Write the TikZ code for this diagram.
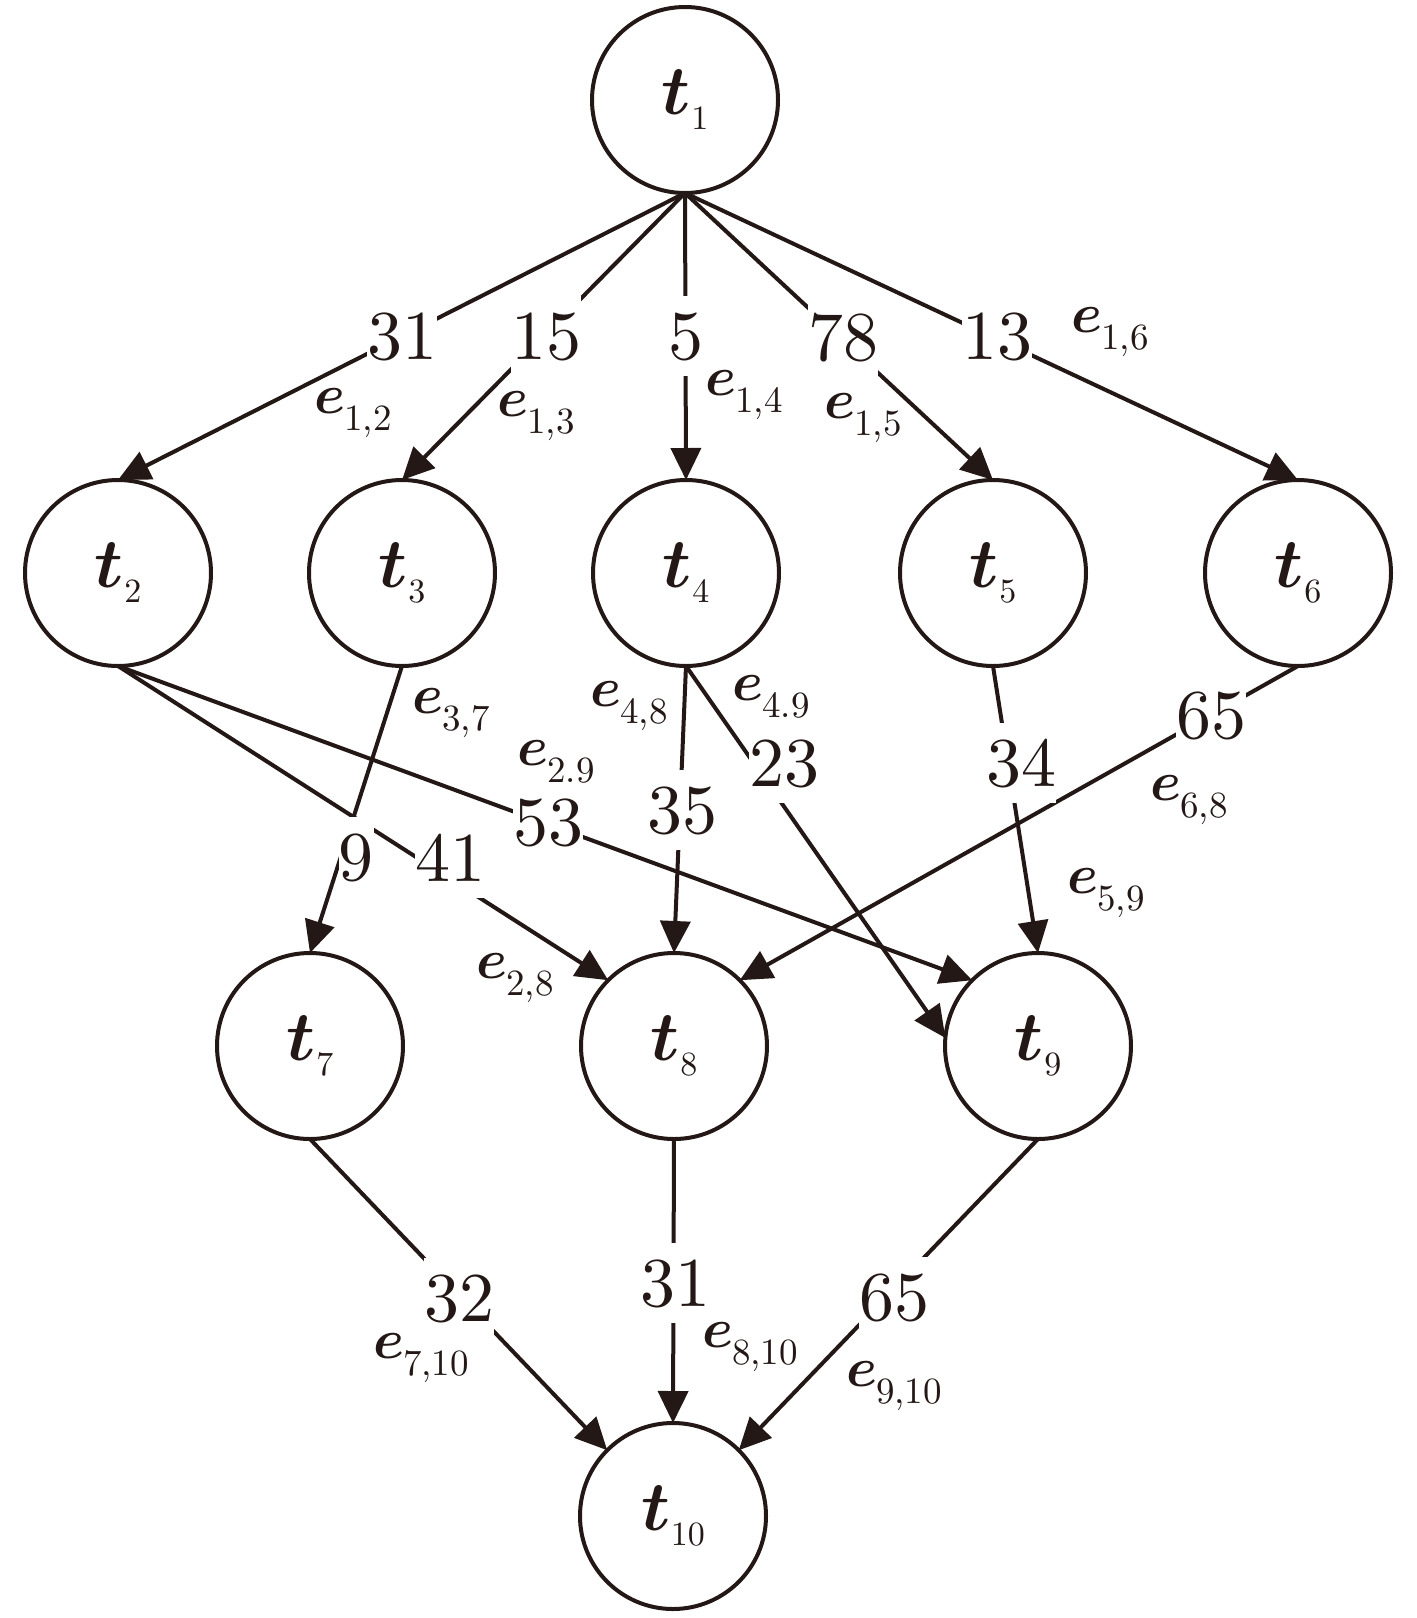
\RequirePackage{fix-cm}
\documentclass[tikz,border=0pt]{standalone}
\usepackage{amsmath}
\usetikzlibrary{arrows.meta}
\definecolor{ink}{RGB}{35,24,21}
\newcommand{\wnum}[1]{\scalebox{3.5}{#1}}
\newcommand{\tsub}[1]{$\boldsymbol{t}$\kern0.3pt\raisebox{-7.5pt}{\fontsize{10}{12}\selectfont\scalebox{1.7}{#1}}}
\newcommand{\esub}[1]{$\boldsymbol{e}$\kern-0.6pt\raisebox{-8.5pt}{\fontsize{10}{12}\selectfont\scalebox{1.85}{#1}}}
\tikzset{
  task/.style={circle, draw=ink, line width=2pt, minimum size=93pt, inner sep=0pt, outer sep=0pt, text=ink, font=\fontsize{35}{42}\selectfont},
  edge/.style={draw=ink, line width=2pt, -{Triangle[length=16pt,width=15pt]}},
  wt/.style={fill=white, inner xsep=0pt, inner ysep=0pt, text height=31.5pt, text depth=8.5pt, text=ink, font=\fontsize{10}{12}\selectfont},
  ename/.style={inner sep=0pt, text=ink, font=\fontsize{28}{34}\selectfont},
}
\begin{document}
\begin{tikzpicture}[x=0.5pt,y=-0.5pt]
\useasboundingbox (0,0) rectangle (1417,1618);
% tasks
\node[task] (t1) at (685,100) {\tsub{1}};
\node[task] (t2) at (118,573) {\tsub{2}};
\node[task] (t3) at (402,573) {\tsub{3}};
\node[task] (t4) at (686,573) {\tsub{4}};
\node[task] (t5) at (993,573) {\tsub{5}};
\node[task] (t6) at (1298,573) {\tsub{6}};
\node[task] (t7) at (310,1046) {\tsub{7}};
\node[task] (t8) at (674,1046) {\tsub{8}};
\node[task] (t9) at (1038,1046) {\tsub{9}};
\node[task] (t10) at (673,1516) {\tsub{10}};
% edges
\draw[edge] (t1.south) -- (t2.north);
\draw[edge] (t1.south) -- (t3.north);
\draw[edge] (t1.south) -- (t4.north);
\draw[edge] (t1.south) -- (t5.north);
\draw[edge] (t1.south) -- (t6.north);
\draw[edge] (t2.south) -- (t8.135);
\draw[edge] (t2.south) -- (t9.135);
\draw[edge] (t3.south) -- (t7.north);
\draw[edge] (t4.south) -- (t8.north);
\draw[edge] (t4.south) -- (t9.175);
\draw[edge] (t5.south) -- (t9.north);
\draw[edge] (t6.south) -- (t8.45);
\draw[edge] (t7.south) -- (t10.135);
\draw[edge] (t8.south) -- (t10.north);
\draw[edge] (t9.south) -- (t10.45);
% weights
\node[wt] (w12) at (402,336) {\wnum{31}};
\node[wt] (w13) at (546,336) {\wnum{15}};
\node[wt] (w14) at (686,336) {\wnum{5}};
\node[wt] (w15) at (843,337) {\wnum{78}};
\node[wt] (w16) at (997,336) {\wnum{13}};
\node[wt] (w28) at (450,858) {\wnum{41}};
\node[wt] (w29) at (548,822) {\wnum{53}};
\node[wt] (w37) at (356,857) {\wnum{9}};
\node[wt] (w48) at (682,810) {\wnum{35}};
\node[wt] (w49) at (784,763) {\wnum{23}};
\node[wt] (w59) at (1021,763) {\wnum{34}};
\node[wt] (w68) at (1211,715) {\wnum{65}};
\node[wt] (w710) at (459,1298) {\wnum{32}};
\node[wt] (w810) at (675,1283) {\wnum{31}};
\node[wt] (w910) at (894,1297) {\wnum{65}};
% edge names
\node[ename] (e12) at (353,413) {\esub{1,2}};
\node[ename] (e13) at (536,416) {\esub{1,3}};
\node[ename] (e14) at (744,395) {\esub{1,4}};
\node[ename] (e15) at (863,418) {\esub{1,5}};
\node[ename] (e16) at (1110,332) {\esub{1,6}};
\node[ename] (e28) at (515,978) {\esub{2,8}};
\node[ename] (e29) at (556,762) {\esub{2.9}};
\node[ename] (e37) at (451,713) {\esub{3,7}};
\node[ename] (e48) at (629,706) {\esub{4,8}};
\node[ename] (e49) at (771,697) {\esub{4.9}};
\node[ename] (e59) at (1106,893) {\esub{5,9}};
\node[ename] (e68) at (1189,800) {\esub{6,8}};
\node[ename] (e710) at (421,1358) {\esub{7,10}};
\node[ename] (e810) at (750,1347) {\esub{8,10}};
\node[ename] (e910) at (894,1386) {\esub{9,10}};
\end{tikzpicture}
\end{document}
